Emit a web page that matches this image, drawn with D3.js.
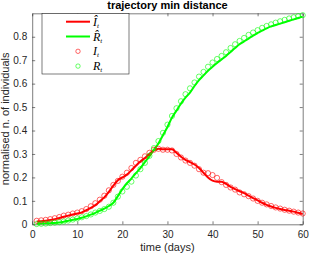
<!DOCTYPE html>
<style>
body { margin: 0; background: #fff; }
text { font-family: "Liberation Sans", Arial, sans-serif; fill: #262626; }
.axis .domain { stroke: #262626; stroke-width: 0.6; }
.axis line { stroke: #262626; stroke-width: 0.6; }
.axis text { font-size: 10px; }
.leg text { font-family: "Liberation Serif", "Times New Roman", serif; font-style: italic; font-size: 12px; fill: #000; }
</style>
<svg width="309" height="256"></svg>
<script src="https://cdn.jsdelivr.net/npm/d3@7"></script>
<script>

// days 1..60
var days = d3.range(1, 61);

// fitted trajectories (lines)
var iHat = [0.012,0.013,0.015,0.018,0.022,0.027,0.032,0.037,0.042,0.046,
            0.051,0.060,0.070,0.082,0.098,0.115,0.138,0.165,0.188,0.200,
            0.212,0.230,0.250,0.268,0.283,0.300,0.315,0.322,0.320,0.320,
            0.320,0.305,0.288,0.275,0.265,0.255,0.240,0.220,0.200,0.186,
            0.182,0.182,0.172,0.160,0.150,0.141,0.133,0.122,0.112,0.102,
            0.092,0.083,0.076,0.070,0.065,0.061,0.058,0.054,0.049,0.044];
var rHat = [0.002,0.003,0.004,0.005,0.006,0.008,0.011,0.015,0.019,0.023,
            0.028,0.034,0.041,0.049,0.058,0.067,0.078,0.092,0.120,0.150,
            0.175,0.195,0.218,0.240,0.265,0.290,0.318,0.345,0.380,0.415,
            0.455,0.485,0.515,0.540,0.562,0.590,0.615,0.635,0.655,0.672,
            0.688,0.703,0.718,0.735,0.752,0.768,0.780,0.792,0.805,0.816,
            0.826,0.836,0.844,0.850,0.856,0.862,0.868,0.874,0.880,0.886];

// observed data (circles)
var iObs = [0.015,0.017,0.019,0.022,0.026,0.031,0.037,0.041,0.046,0.050,
            0.056,0.065,0.077,0.090,0.105,0.122,0.145,0.168,0.185,0.203,
            0.220,0.240,0.262,0.275,0.290,0.305,0.318,0.322,0.318,0.318,
            0.315,0.300,0.285,0.272,0.262,0.250,0.235,0.220,0.218,0.210,
            0.198,0.180,0.168,0.157,0.148,0.136,0.128,0.120,0.110,0.100,
            0.092,0.085,0.078,0.072,0.067,0.062,0.058,0.054,0.050,0.046];
var rObs = [0.001,0.002,0.003,0.005,0.007,0.009,0.012,0.016,0.020,0.025,
            0.030,0.035,0.042,0.050,0.057,0.065,0.075,0.092,0.118,0.140,
            0.160,0.182,0.208,0.235,0.262,0.292,0.325,0.355,0.390,0.425,
            0.462,0.495,0.525,0.555,0.580,0.605,0.630,0.650,0.672,0.690,
            0.705,0.718,0.734,0.752,0.768,0.782,0.795,0.808,0.818,0.828,
            0.838,0.846,0.853,0.860,0.866,0.872,0.878,0.883,0.888,0.892];

var xTicks = [0, 10, 20, 30, 40, 50, 60];
var yTicks = [0, 0.1, 0.2, 0.3, 0.4, 0.5, 0.6, 0.7, 0.8];

var svg = d3.select("svg"),
    margin = {top: 13.3, right: 6.3, bottom: 31.7, left: 32.2},
    width = +svg.attr("width") - margin.left - margin.right,
    height = +svg.attr("height") - margin.top - margin.bottom,
    g = svg.append("g").attr("transform", "translate(" + margin.left + "," + margin.top + ")");

var x = d3.scaleLinear().domain([0, 60]).range([0, width]);
var y = d3.scaleLinear().domain([0, 0.9]).range([height, 0]);

var red = "#ff0000", green = "#00ff00";

// axes (matlab style, ticks inside, box on)
g.append("g")
    .attr("class", "axis")
    .attr("transform", "translate(0," + height + ")")
    .call(d3.axisBottom(x).tickValues(xTicks).tickSizeInner(-3).tickSizeOuter(0).tickPadding(7));
g.append("g")
    .attr("class", "axis")
    .call(d3.axisTop(x).tickValues(xTicks).tickSizeInner(-3).tickSizeOuter(0).tickFormat(""));
g.append("g")
    .attr("class", "axis")
    .call(d3.axisLeft(y).tickValues(yTicks).tickSizeInner(-3).tickSizeOuter(0).tickPadding(5)
      .tickFormat(function(d) { return d === 0 ? "0" : d3.format(".1f")(d); }));
g.append("g")
    .attr("class", "axis")
    .attr("transform", "translate(" + width + ",0)")
    .call(d3.axisRight(y).tickValues(yTicks).tickSizeInner(-3).tickSizeOuter(0).tickFormat(""));

var line = d3.line()
    .x(function(d, i) { return x(days[i]); })
    .y(function(d) { return y(d); })
    .curve(d3.curveMonotoneX);

g.append("path").datum(iHat)
    .attr("fill", "none").attr("stroke", red).attr("stroke-width", 2)
    .attr("d", line);
g.append("path").datum(rHat)
    .attr("fill", "none").attr("stroke", green).attr("stroke-width", 2)
    .attr("d", line);

function dots(vals, col) {
  g.append("g").selectAll("circle")
    .data(vals)
    .enter().append("circle")
      .attr("cx", function(d, i) { return x(days[i]); })
      .attr("cy", function(d) { return y(d); })
      .attr("r", 2.6)
      .attr("fill", "none")
      .attr("stroke", col)
      .attr("stroke-width", 0.6);
}
dots(iObs, red);
dots(rObs, green);

// title and labels
svg.append("text")
    .attr("x", margin.left + width / 2)
    .attr("y", 9)
    .attr("text-anchor", "middle")
    .attr("font-size", 11)
    .attr("font-weight", "bold")
    .style("fill", "#000")
    .text("trajectory min distance");

svg.append("text")
    .attr("x", margin.left + width / 2)
    .attr("y", 251)
    .attr("text-anchor", "middle")
    .attr("font-size", 11)
    .text("time (days)");

svg.append("text")
    .attr("transform", "translate(9," + (margin.top + height / 2) + ") rotate(-90)")
    .attr("text-anchor", "middle")
    .attr("font-size", 11)
    .text("normalised n. of individuals");

// legend
var leg = svg.append("g").attr("class", "leg").attr("transform", "translate(42,13.5)");
leg.append("rect")
    .attr("width", 87).attr("height", 60.5)
    .attr("fill", "#fff").attr("stroke", "#262626").attr("stroke-width", 0.6);

var entries = [
  {name: "\u00ce", type: "line", col: red},
  {name: "R\u0302", type: "line", col: green},
  {name: "I", type: "dot", col: red},
  {name: "R", type: "dot", col: green}
];

var item = leg.selectAll(".item")
    .data(entries)
    .enter().append("g")
      .attr("class", "item")
      .attr("transform", function(d, i) { return "translate(0," + (8.2 + i * 14.8) + ")"; });

item.filter(function(d) { return d.type === "line"; })
  .append("line")
    .attr("x1", 24).attr("x2", 48)
    .attr("stroke", function(d) { return d.col; })
    .attr("stroke-width", 2);

item.filter(function(d) { return d.type === "dot"; })
  .append("circle")
    .attr("cx", 36).attr("r", 2.2)
    .attr("fill", "none")
    .attr("stroke", function(d) { return d.col; })
    .attr("stroke-width", 0.6);

var lt = item.append("text")
    .attr("x", 51)
    .attr("y", 4);
lt.append("tspan").text(function(d) { return d.name; });
lt.append("tspan").attr("font-size", 7).attr("dy", 2).text("t");

</script>
